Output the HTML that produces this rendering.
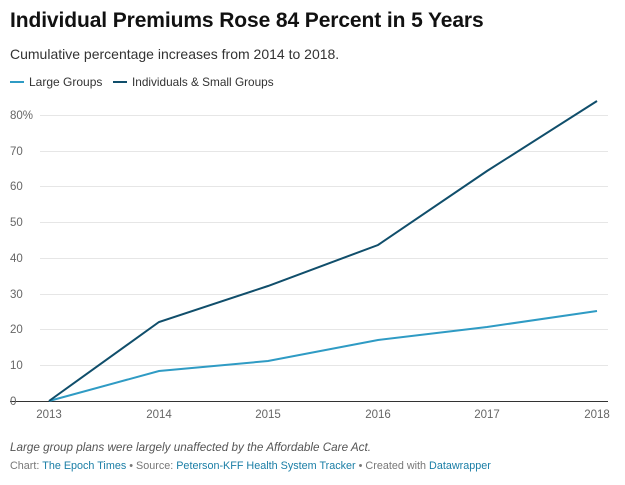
<!DOCTYPE html>
<html><head><meta charset="utf-8"><style>
body{margin:0;width:625px;height:485px;background:#fff;font-family:"Liberation Sans",sans-serif;overflow:hidden;position:relative}
.t{position:absolute;left:10px;top:9px;font-size:21px;font-weight:bold;color:#111;letter-spacing:-0.1px}
.s{position:absolute;left:10px;top:46px;font-size:14px;color:#333}
.lg{position:absolute;top:75px;font-size:12px;color:#333}
.lg i{display:inline-block;width:14px;height:2px;vertical-align:middle;margin-right:5px;position:relative;top:-1px}
.n{position:absolute;left:10px;top:441px;font-size:11.7px;color:#555;font-style:italic}
.c{position:absolute;left:10px;top:460px;font-size:10.8px;color:#777}
.c b{font-weight:normal;color:#1a7ea6}
</style></head><body>
<div class="t">Individual Premiums Rose 84 Percent in 5 Years</div>
<div class="s">Cumulative percentage increases from 2014 to 2018.</div>
<div class="lg" style="left:10px"><i style="background:#2f9bc4"></i>Large Groups</div>
<div class="lg" style="left:113px;font-size:11.8px"><i style="background:#104e6b"></i>Individuals &amp; Small Groups</div>
<svg width="625" height="485" style="position:absolute;left:0;top:0" font-family="Liberation Sans" font-size="11.5" fill="#666">
<g stroke="#e6e6e6" stroke-width="1">
<line x1="40" x2="608" y1="115.5" y2="115.5"/><line x1="40" x2="608" y1="151.5" y2="151.5"/>
<line x1="40" x2="608" y1="186.5" y2="186.5"/><line x1="40" x2="608" y1="222.5" y2="222.5"/>
<line x1="40" x2="608" y1="258.5" y2="258.5"/><line x1="40" x2="608" y1="294.5" y2="294.5"/>
<line x1="40" x2="608" y1="329.5" y2="329.5"/><line x1="40" x2="608" y1="365.5" y2="365.5"/>
</g>
<line x1="10" x2="608" y1="401.5" y2="401.5" stroke="#333"/>
<text x="10" y="119">80%</text><text x="10" y="155">70</text><text x="10" y="190">60</text><text x="10" y="226">50</text>
<text x="10" y="262">40</text><text x="10" y="298">30</text><text x="10" y="333">20</text><text x="10" y="369">10</text><text x="10" y="405">0</text>
<g text-anchor="middle"><text x="49" y="418">2013</text><text x="159" y="418">2014</text><text x="268" y="418">2015</text>
<text x="378" y="418">2016</text><text x="487" y="418">2017</text><text x="597" y="418">2018</text></g>
<polyline fill="none" stroke="#2f9bc4" stroke-width="2" points="49,401 159,371 268,361 378,340 487,327 597,311"/>
<polyline fill="none" stroke="#104e6b" stroke-width="2" points="49,401 159,322 268,286 378,245 487,171 597,101"/>
</svg>
<div class="n">Large group plans were largely unaffected by the Affordable Care Act.</div>
<div class="c">Chart: <b>The Epoch Times</b> • Source: <b>Peterson-KFF Health System Tracker</b> • Created with <b>Datawrapper</b></div>
</body></html>
